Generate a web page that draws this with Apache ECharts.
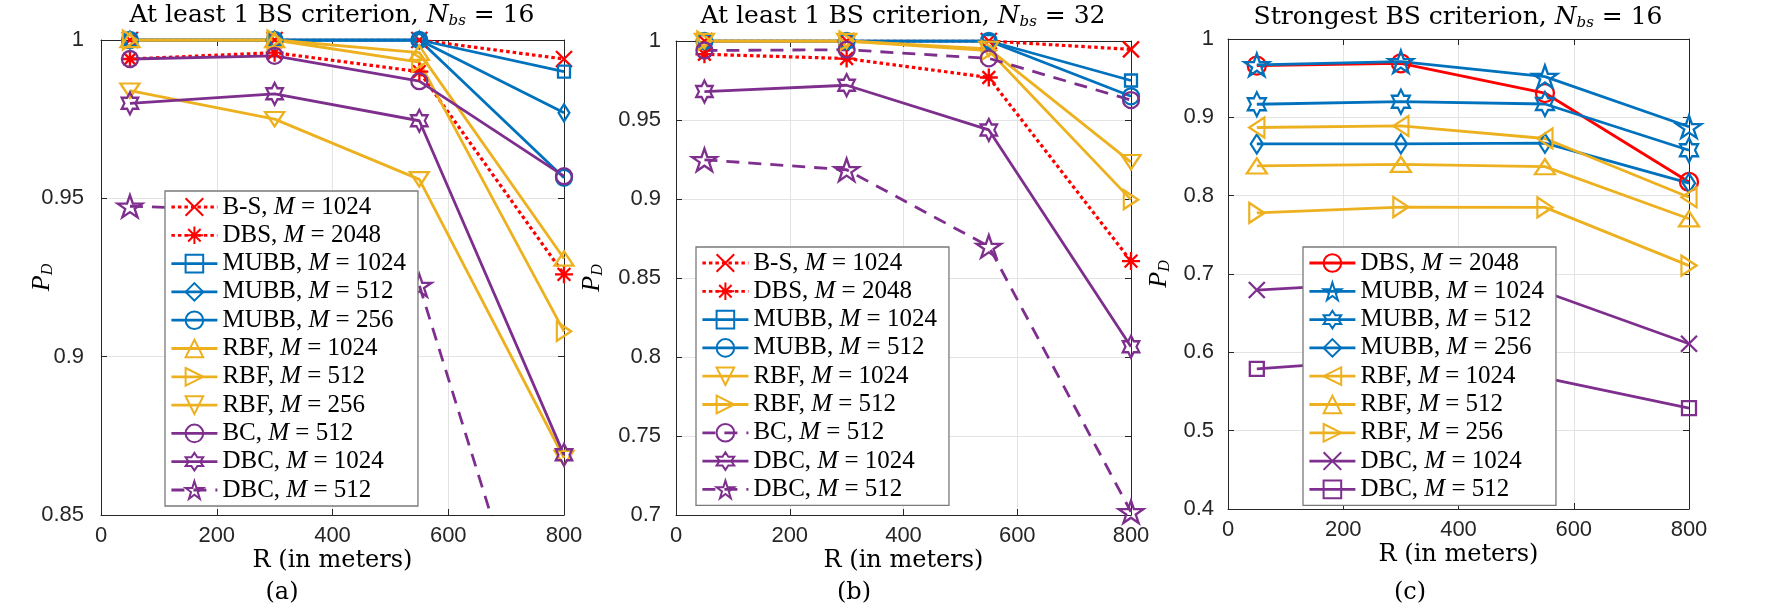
<!DOCTYPE html>
<html>
<head>
<meta charset="utf-8">
<script src="https://cdn.jsdelivr.net/npm/echarts@6/dist/echarts.min.js"></script>
<style>
html, body { margin: 0; padding: 0; background: #fff; }
.panel { position: absolute; left: 0; top: 0; width: 1778px; height: 613px; }
</style>
</head>
<body>
<div id="chartA" class="panel"></div>
<div id="chartB" class="panel"></div>
<div id="chartC" class="panel"></div>
<script>
// R (in meters) for every curve
var radius = [50, 300, 550, 800];
var xTicks = { min: 0, max: 800, step: 200 };

// (a) at least 1 BS, Nbs = 16
var a_bs1024 = [1, 1, 1, 0.994];
var a_dbs2048 = [0.994, 0.996, 0.990, 0.926];
var a_mubb1024 = [1, 1, 1, 0.990];
var a_mubb512 = [1, 1, 1, 0.977];
var a_mubb256 = [1, 1, 1, 0.9565];
var a_rbf1024 = [1, 1, 0.996, 0.931];
var a_rbf512 = [1, 1, 0.993, 0.908];
var a_rbf256 = [0.984, 0.975, 0.956, 0.868];
var a_bc512 = [0.994, 0.995, 0.987, 0.957];
var a_dbc1024 = [0.980, 0.983, 0.9745, 0.869];
var a_dbc512 = [0.9475, 0.946, 0.9225, 0.776];
var a_yTicks = { min: 0.85, max: 1, step: 0.05 };

// (b) at least 1 BS, Nbs = 32
var b_bs1024 = [1, 1, 1, 0.9947];
var b_dbs2048 = [0.9916, 0.9889, 0.9769, 0.8607];
var b_mubb1024 = [1, 1, 1, 0.975];
var b_mubb512 = [1, 1, 1, 0.965];
var b_rbf1024 = [1, 1, 0.995, 0.9233];
var b_rbf512 = [1, 1, 0.994, 0.8996];
var b_bc512 = [0.994, 0.9945, 0.989, 0.9626];
var b_dbc1024 = [0.968, 0.972, 0.9437, 0.8065];
var b_dbc512 = [0.9248, 0.9185, 0.870, 0.702];
var b_yTicks = { min: 0.7, max: 1, step: 0.05 };

// (c) strongest BS, Nbs = 16
var c_dbs2048 = [0.966, 0.969, 0.931, 0.8175];
var c_mubb1024 = [0.967, 0.971, 0.952, 0.888];
var c_mubb512 = [0.9167, 0.920, 0.917, 0.858];
var c_mubb256 = [0.866, 0.866, 0.867, 0.816];
var c_rbf1024 = [0.887, 0.889, 0.873, 0.798];
var c_rbf512 = [0.838, 0.840, 0.837, 0.7705];
var c_rbf256 = [0.778, 0.7855, 0.785, 0.7107];
var c_dbc1024 = [0.6795, 0.69, 0.677, 0.611];
var c_dbc512 = [0.579, 0.592, 0.5675, 0.5287];
var c_yTicks = { min: 0.4, max: 1, step: 0.1 };

var BLUE = '#0072BD', YELLOW = '#EDB120', PURPLE = '#7E2F8E', RED = '#FF0000';
var SERIF = 'Liberation Serif', WIDE_SERIF = 'DejaVu Serif', SANS = 'Liberation Sans';
var DOT = [3.5, 3], DASH = [13, 9];

// marker shapes (MATLAB style, hollow)
function starPath(n, R, r) {
    var pts = [];
    for (var k = 0; k < 2 * n; k++) {
        var ang = -Math.PI / 2 + k * Math.PI / n;
        var rad = k % 2 ? r : R;
        pts.push([rad * Math.cos(ang), rad * Math.sin(ang)]);
    }
    var minX = Math.min.apply(null, pts.map(function (p) { return p[0]; }));
    var minY = Math.min.apply(null, pts.map(function (p) { return p[1]; }));
    var maxX = Math.max.apply(null, pts.map(function (p) { return p[0]; }));
    var maxY = Math.max.apply(null, pts.map(function (p) { return p[1]; }));
    var d = pts.map(function (p, i) {
        return (i ? 'L' : 'M') + (p[0] - minX).toFixed(2) + ' ' + (p[1] - minY).toFixed(2);
    }).join('') + 'Z';
    return { symbol: 'path://' + d, size: [maxX - minX, maxY - minY] };
}
function marker(kind, s) {
    var c = s / 2, q = c * 0.7071, h = s * 0.87;
    switch (kind) {
        case 'x': return { symbol: 'path://M0 0L' + s + ' ' + s + 'M0 ' + s + 'L' + s + ' 0', size: [s, s] };
        case 'ast': return { symbol: 'path://M' + c + ' 0L' + c + ' ' + s + 'M0 ' + c + 'L' + s + ' ' + c +
            'M' + (c - q) + ' ' + (c - q) + 'L' + (c + q) + ' ' + (c + q) + 'M' + (c - q) + ' ' + (c + q) + 'L' + (c + q) + ' ' + (c - q), size: [s, s] };
        case 'sq': return { symbol: 'path://M0 0L' + s + ' 0L' + s + ' ' + s + 'L0 ' + s + 'Z', size: [s, s] };
        case 'dia': var w = s * 0.8; return { symbol: 'path://M' + w / 2 + ' 0L' + w + ' ' + s / 2 + 'L' + w / 2 + ' ' + s + 'L0 ' + s / 2 + 'Z', size: [w, s] };
        case 'circ': return { symbol: 'circle', size: s };
        case 'up': return { symbol: 'path://M' + c + ' 0L' + s + ' ' + h + 'L0 ' + h + 'Z', size: [s, h] };
        case 'down': return { symbol: 'path://M0 0L' + s + ' 0L' + c + ' ' + h + 'Z', size: [s, h] };
        case 'right': return { symbol: 'path://M0 0L' + h + ' ' + c + 'L0 ' + s + 'Z', size: [h, s] };
        case 'left': return { symbol: 'path://M' + h + ' 0L0 ' + c + 'L' + h + ' ' + s + 'Z', size: [h, s] };
        case 'hex': return starPath(6, s / 2, s / 2 / Math.sqrt(3));
        case 'pent': return starPath(5, s / 2, s / 2 * 0.382);
    }
}

function curve(name, values, color, mk, dash) {
    return {
        type: 'line',
        name: name,
        data: radius.map(function (r, i) { return [r, values[i]]; }),
        symbol: mk.symbol,
        symbolSize: mk.size,
        symbolKeepAspect: true,
        showSymbol: true,
        lineStyle: { color: color, width: dash === DOT ? 3.2 : 2.8, type: dash || 'solid', cap: 'butt' },
        itemStyle: { color: 'rgba(255,255,255,0)', borderColor: color, borderWidth: 2.3 },
        emphasis: { disabled: true },
        clip: true
    };
}

function legendText(name) {
    var p = name.split(' M = ');
    return '{n|' + p[0] + ' }{i|M}{n| = ' + p[1] + '}';
}

function richLabel(font, size) {
    return {
        n: { fontFamily: font, fontSize: size, lineHeight: 28, color: '#000' },
        i: { fontFamily: font, fontSize: size, fontStyle: 'italic', lineHeight: 28, color: '#000' },
        s: { fontFamily: font, fontSize: 15, fontStyle: 'italic', padding: [12, 0, 0, 0], color: '#000' }
    };
}

function buildOption(p) {
    var axisColor = '#262626';
    var common = { type: 'value', gridIndex: 0 };
    return {
        animation: false,
        grid: { left: p.grid[0], top: p.grid[1], width: p.grid[2], height: p.grid[3], containLabel: false },
        graphic: [
            { type: 'text', x: p.titleXY[0], y: p.titleXY[1], style: {
                text: p.title, fontFamily: WIDE_SERIF, fontSize: 25, fill: '#000',
                align: 'center', verticalAlign: 'middle', rich: richLabel(WIDE_SERIF, 25) } },
            { type: 'text', x: p.capXY[0], y: p.capXY[1], style: {
                text: p.caption, fontFamily: WIDE_SERIF, fontSize: 24, fill: '#000',
                align: 'center', verticalAlign: 'middle' } }
        ],
        legend: {
            orient: 'vertical', left: p.legendXY[0], top: p.legendXY[1],
            itemWidth: 46, itemHeight: 22, itemGap: 0.3,
            padding: [2, 12, 2, 5],
            backgroundColor: '#fff', borderColor: '#7a7a7a', borderWidth: 1.3, borderRadius: 0,
            lineStyle: { width: 2.8 },
            itemStyle: { borderWidth: 2 },
            textStyle: { fontFamily: SERIF, fontSize: 25, lineHeight: 28, color: '#000', rich: richLabel(SERIF, 25) },
            formatter: legendText,
            selectedMode: false
        },
        xAxis: [
            Object.assign({}, common, {
                position: 'bottom', min: xTicks.min, max: xTicks.max, interval: xTicks.step,
                axisLine: { show: true, onZero: false, lineStyle: { color: axisColor, width: 1 } },
                axisTick: { show: true, inside: true, length: 6, lineStyle: { color: axisColor } },
                axisLabel: { fontFamily: SANS, fontSize: 22, color: axisColor, margin: 10 },
                splitLine: { show: true, lineStyle: { color: '#e3e3e3', width: 1 } },
                name: 'R (in meters)', nameLocation: 'middle', nameGap: 34, nameMoveOverlap: false,
                nameTextStyle: { fontFamily: WIDE_SERIF, fontSize: 24, color: '#000' }
            }),
            Object.assign({}, common, {
                position: 'top', min: xTicks.min, max: xTicks.max, interval: xTicks.step,
                axisLine: { show: true, onZero: false, lineStyle: { color: axisColor, width: 1 } },
                axisTick: { show: true, inside: true, length: 6, lineStyle: { color: axisColor } },
                axisLabel: { show: false }, splitLine: { show: false }
            })
        ],
        yAxis: [
            Object.assign({}, common, {
                position: 'left', min: p.y.min, max: p.y.max, interval: p.y.step,
                axisLine: { show: true, onZero: false, lineStyle: { color: axisColor, width: 1 } },
                axisTick: { show: true, inside: true, length: 6, lineStyle: { color: axisColor } },
                axisLabel: { fontFamily: SANS, fontSize: 22, color: axisColor, margin: p.yLabelMargin },
                splitLine: { show: true, lineStyle: { color: '#e3e3e3', width: 1 } },
                name: '{p|P}{d|D}', nameLocation: 'middle', nameRotate: 90, nameGap: p.yNameGap,
                nameMoveOverlap: false,
                nameTextStyle: { rich: {
                    p: { fontFamily: SERIF, fontSize: 26, fontStyle: 'italic', color: '#000' },
                    d: { fontFamily: SERIF, fontSize: 16, fontStyle: 'italic', color: '#000', padding: [12, 0, 0, 0] }
                } }
            }),
            Object.assign({}, common, {
                position: 'right', min: p.y.min, max: p.y.max, interval: p.y.step,
                axisLine: { show: true, onZero: false, lineStyle: { color: axisColor, width: 1 } },
                axisTick: { show: true, inside: true, length: 6, lineStyle: { color: axisColor } },
                axisLabel: { show: false }, splitLine: { show: false }
            })
        ],
        series: p.series
    };
}

var optA = buildOption({
    grid: [101, 40, 463, 475],
    titleXY: [332, 15], title: 'At least 1 BS criterion, {i|N}{s|bs}{n| = 16}',
    capXY: [282, 593], caption: '(a)',
    legendXY: [165, 191], y: a_yTicks, yLabelMargin: 17, yNameGap: 45,
    series: [
        curve('B-S, M = 1024', a_bs1024, RED, marker('x', 16), DOT),
        curve('DBS, M = 2048', a_dbs2048, RED, marker('ast', 18), DOT),
        curve('MUBB, M = 1024', a_mubb1024, BLUE, marker('sq', 12)),
        curve('MUBB, M = 512', a_mubb512, BLUE, marker('dia', 17)),
        curve('MUBB, M = 256', a_mubb256, BLUE, marker('circ', 16)),
        curve('RBF, M = 1024', a_rbf1024, YELLOW, marker('up', 19)),
        curve('RBF, M = 512', a_rbf512, YELLOW, marker('right', 19)),
        curve('RBF, M = 256', a_rbf256, YELLOW, marker('down', 19)),
        curve('BC, M = 512', a_bc512, PURPLE, marker('circ', 16)),
        curve('DBC, M = 1024', a_dbc1024, PURPLE, marker('hex', 22)),
        curve('DBC, M = 512', a_dbc512, PURPLE, marker('pent', 26), DASH)
    ]
});

var optB = buildOption({
    grid: [676, 41, 455, 474],
    titleXY: [903, 16], title: 'At least 1 BS criterion, {i|N}{s|bs}{n| = 32}',
    capXY: [854, 593], caption: '(b)',
    legendXY: [696, 247], y: b_yTicks, yLabelMargin: 15, yNameGap: 70,
    series: [
        curve('B-S, M = 1024', b_bs1024, RED, marker('x', 16), DOT),
        curve('DBS, M = 2048', b_dbs2048, RED, marker('ast', 18), DOT),
        curve('MUBB, M = 1024', b_mubb1024, BLUE, marker('sq', 12)),
        curve('MUBB, M = 512', b_mubb512, BLUE, marker('circ', 16)),
        curve('RBF, M = 1024', b_rbf1024, YELLOW, marker('down', 19)),
        curve('RBF, M = 512', b_rbf512, YELLOW, marker('right', 19)),
        curve('BC, M = 512', b_bc512, PURPLE, marker('circ', 16), DASH),
        curve('DBC, M = 1024', b_dbc1024, PURPLE, marker('hex', 22)),
        curve('DBC, M = 512', b_dbc512, PURPLE, marker('pent', 26), DASH)
    ]
});

var optC = buildOption({
    grid: [1228, 39, 461, 470],
    titleXY: [1458, 17], title: 'Strongest BS criterion, {i|N}{s|bs}{n| = 16}',
    capXY: [1410, 593], caption: '(c)',
    legendXY: [1303, 247], y: c_yTicks, yLabelMargin: 14, yNameGap: 55,
    series: [
        curve('DBS, M = 2048', c_dbs2048, RED, marker('circ', 18)),
        curve('MUBB, M = 1024', c_mubb1024, BLUE, marker('pent', 26)),
        curve('MUBB, M = 512', c_mubb512, BLUE, marker('hex', 24)),
        curve('MUBB, M = 256', c_mubb256, BLUE, marker('dia', 19)),
        curve('RBF, M = 1024', c_rbf1024, YELLOW, marker('left', 20)),
        curve('RBF, M = 512', c_rbf512, YELLOW, marker('up', 20)),
        curve('RBF, M = 256', c_rbf256, YELLOW, marker('right', 20)),
        curve('DBC, M = 1024', c_dbc1024, PURPLE, marker('x', 16)),
        curve('DBC, M = 512', c_dbc512, PURPLE, marker('sq', 14))
    ]
});

echarts.init(document.getElementById('chartA')).setOption(optA);
echarts.init(document.getElementById('chartB')).setOption(optB);
echarts.init(document.getElementById('chartC')).setOption(optC);
</script>
</body>
</html>
